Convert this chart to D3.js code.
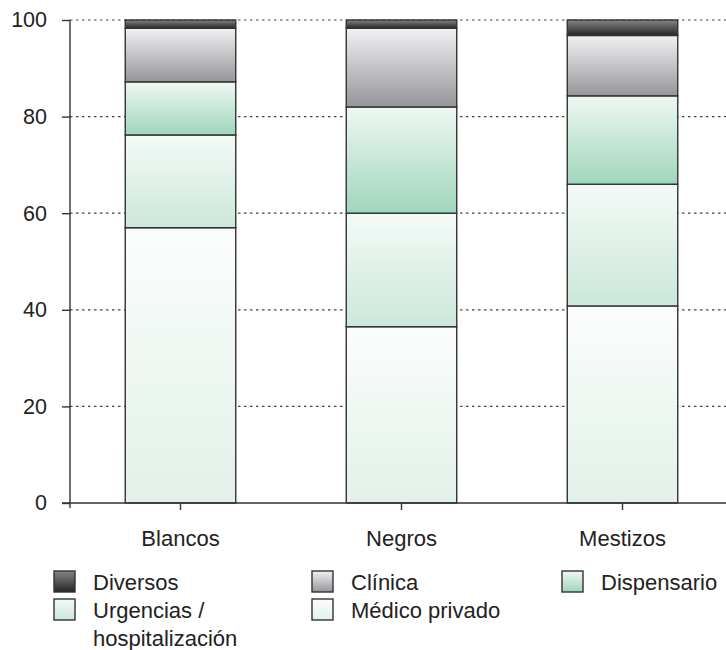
<!DOCTYPE html>
<html><head><meta charset="utf-8">
<script src="https://cdn.jsdelivr.net/npm/d3@7/dist/d3.min.js"></script>
<style>body{margin:0;background:#fff}svg{display:block}text{font-family:"Liberation Sans",Arial,sans-serif;fill:#222}</style>
</head><body><svg id="c" width="726" height="650"></svg>
<script>
const categories = ["Blancos", "Negros", "Mestizos"];
const seriesNames = ["Médico privado", "Urgencias / hospitalización", "Dispensario", "Clínica", "Diversos"];
const medicoPrivado = [57, 36.5, 40.8];
const urgencias = [19.2, 23.5, 25.2];
const dispensario = [11, 22, 18.3];
const clinica = [11.1, 16.3, 12.5];
const diversos = [1.7, 1.7, 3.2];
const yTicks = [0, 20, 40, 60, 80, 100];
const gradTop = ["#fbfdfc", "#f4faf7", "#eef8f2", "#f1f1f3", "#858587"];
const gradBot = ["#e2f1e9", "#cbe8da", "#a0d6bd", "#96969a", "#262626"];

const values = [medicoPrivado, urgencias, dispensario, clinica, diversos];
const rows = categories.map((c, i) => {
  const r = {cat: c};
  seriesNames.forEach((s, k) => r[s] = values[k][i]);
  return r;
});
const stack = d3.stack().keys(seriesNames)(rows);

const svg = d3.select("#c");
const defs = svg.append("defs");
seriesNames.forEach((s, k) => {
  const g = defs.append("linearGradient").attr("id", "g" + k)
    .attr("x1", 0).attr("y1", 0).attr("x2", 0).attr("y2", 1);
  g.append("stop").attr("offset", 0).attr("stop-color", gradTop[k]);
  g.append("stop").attr("offset", 1).attr("stop-color", gradBot[k]);
});

const x = d3.scaleBand().domain(categories).range([70, 733]).paddingInner(0.5).paddingOuter(0.25);
const y = d3.scaleLinear().domain([0, 100]).range([503, 20]);

// gridlines
svg.append("g").selectAll("line").data(yTicks.filter(t => t > 0)).join("line")
  .attr("x1", 70).attr("x2", 726).attr("y1", d => y(d)).attr("y2", d => y(d))
  .attr("stroke", "#444").attr("stroke-width", 1.2).attr("stroke-dasharray", "2.5,3.5");

// bars
svg.append("g").selectAll("g").data(stack).join("g")
  .attr("fill", (d, k) => `url(#g${k})`)
  .selectAll("rect").data(d => d).join("rect")
  .attr("x", d => x(d.data.cat)).attr("width", x.bandwidth())
  .attr("y", d => y(d[1])).attr("height", d => y(d[0]) - y(d[1]))
  .attr("stroke", "#333").attr("stroke-width", 1.4);

// y axis
const ya = svg.append("g").attr("transform", "translate(70,0)")
  .call(d3.axisLeft(y).tickValues(yTicks).tickSize(8).tickPadding(15));
ya.select(".domain").attr("stroke", "#333").attr("stroke-width", 1.4).attr("d", "M0,20V508");
ya.selectAll(".tick line").attr("stroke", "#333").attr("stroke-width", 1.4);
ya.selectAll(".tick text").attr("font-size", 21.5).attr("font-family", "Liberation Sans, Arial, sans-serif").attr("fill", "#222");

// x axis
const xa = svg.append("g").attr("transform", "translate(0,503)")
  .call(d3.axisBottom(x).tickSize(7).tickPadding(20));
xa.select(".domain").attr("stroke", "#333").attr("stroke-width", 1.4).attr("d", "M62,0H726");
xa.selectAll(".tick line").attr("stroke", "#333").attr("stroke-width", 1.4);
xa.selectAll(".tick text").attr("font-size", 22).attr("font-family", "Liberation Sans, Arial, sans-serif").attr("fill", "#222");

// legend
const legendOrder = ["Diversos", "Clínica", "Dispensario", "Urgencias / hospitalización", "Médico privado"];
const legendLines = {"Urgencias / hospitalización": ["Urgencias /", "hospitalización"]};
const colX = [54, 312, 562];
const rowY = [571, 599];
const leg = svg.append("g");
legendOrder.forEach((s, i) => {
  const k = seriesNames.indexOf(s);
  const cx = colX[i % 3], ry = rowY[Math.floor(i / 3)];
  leg.append("rect").attr("x", cx).attr("y", ry).attr("width", 21).attr("height", 21)
    .attr("fill", `url(#g${k})`).attr("stroke", "#333").attr("stroke-width", 1.4);
  const lines = legendLines[s] || [s];
  lines.forEach((t, j) => {
    leg.append("text").attr("x", cx + 39).attr("y", ry + 19 + j * 28)
      .attr("font-size", 22).text(t);
  });
});
</script></body></html>
